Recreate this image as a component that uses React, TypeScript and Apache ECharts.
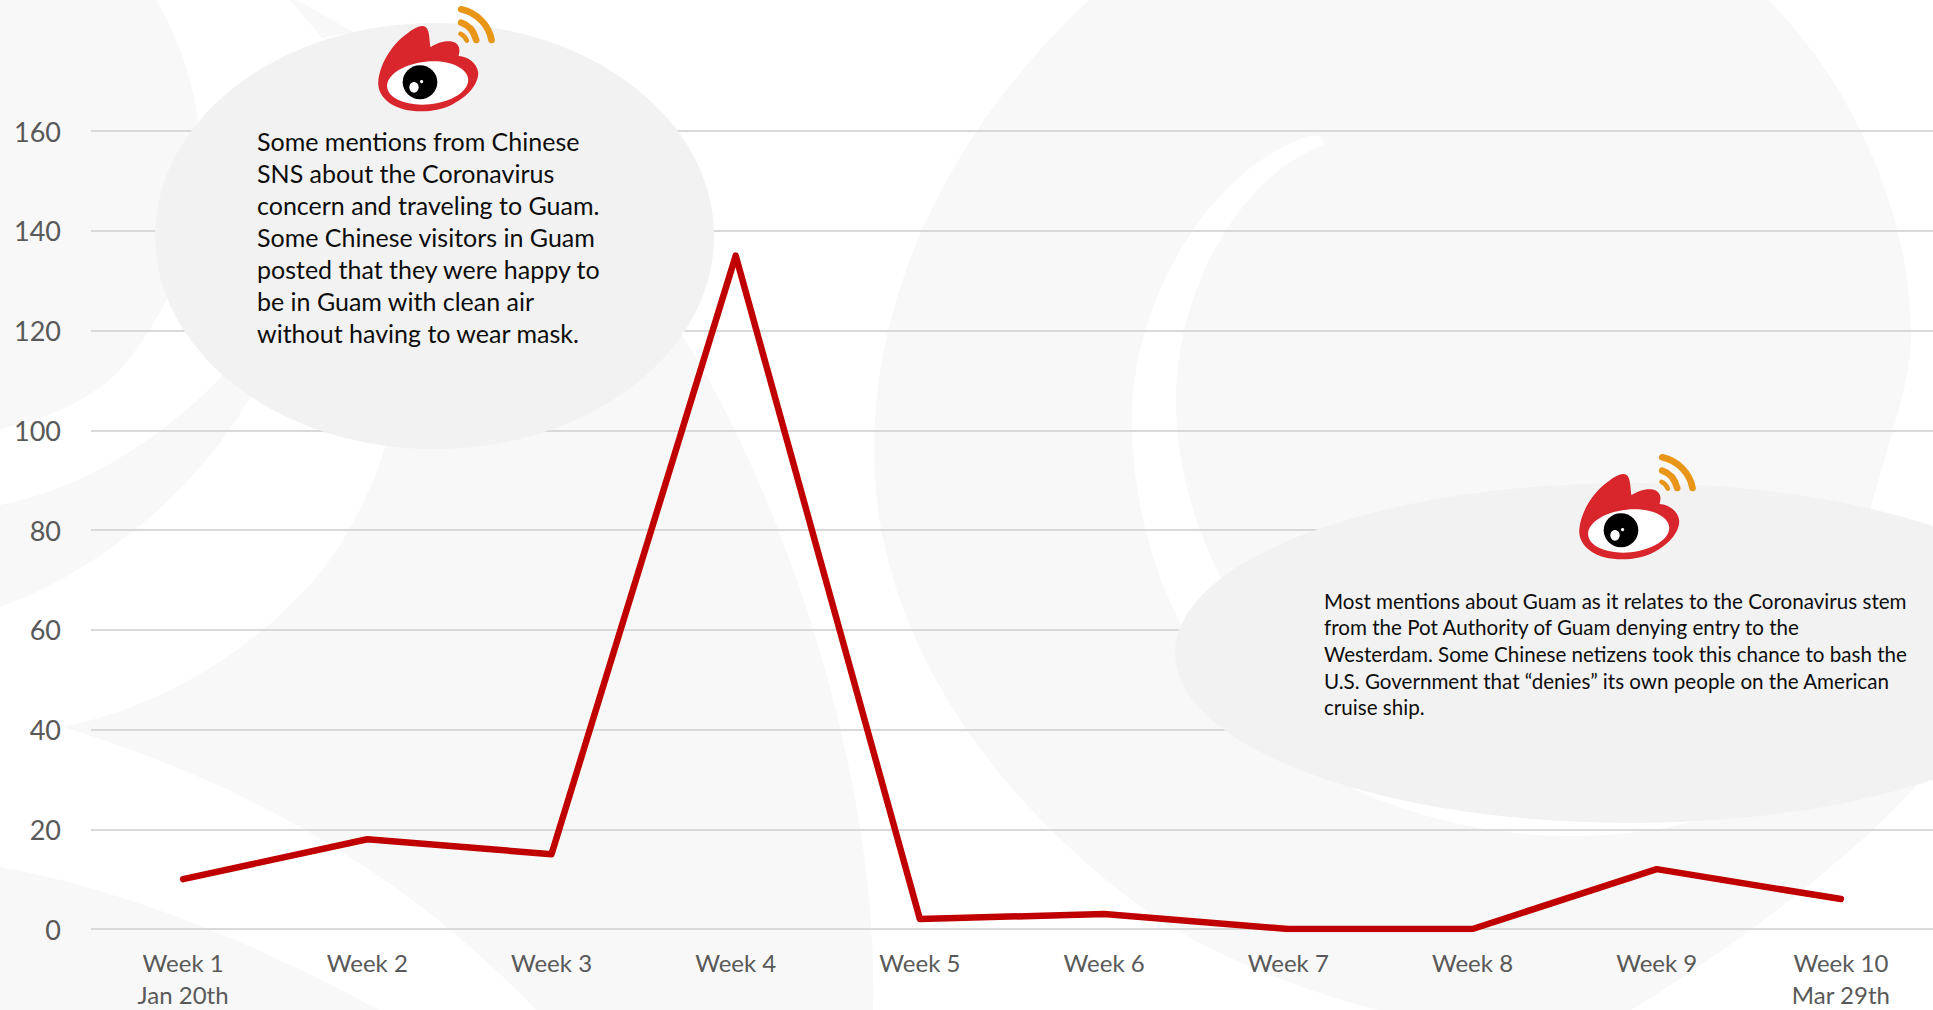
import React, { useEffect, useRef } from "react";
import * as echarts from "echarts";

const weeks = ["Week 1\nJan 20th", "Week 2", "Week 3", "Week 4", "Week 5", "Week 6", "Week 7", "Week 8", "Week 9", "Week 10\nMar 29th"];
const mentions = [10, 18, 15, 135, 2, 3, 0, 0, 12, 6];
const yTicks = { min: 0, max: 160, interval: 20 };

const noteOne = [
  "Some mentions from Chinese",
  "SNS about the Coronavirus",
  "concern and traveling to Guam.",
  "Some Chinese visitors in Guam",
  "posted that they were happy to",
  "be in Guam with clean air",
  "without having to wear mask.",
];
const noteTwo = [
  "Most mentions about Guam as it relates to the Coronavirus stem",
  "from the Pot Authority of Guam denying entry to the",
  "Westerdam. Some Chinese netizens took this chance to bash the",
  "U.S. Government that \u201Cdenies\u201D its own people on the American",
  "cruise ship.",
];

const bgPaths: Record<string, string> = {
  bgHead:
    "M1089 0C960 120 874 280 874 451C874 640 1000 810 1161 921C1225 960 1300 990 1378 1010L1631 1010C1730 950 1850 860 1915 787L1940 745L1940 690L1850 620L1869 515C1895 420 1911 380 1911 335C1911 200 1840 70 1768 0Z",
  bgCrescent:
    "M1324 145C1240 175 1176 290 1176 400C1176 520 1240 640 1330 720C1420 790 1560 830 1696 821C1540 860 1380 820 1270 741C1180 660 1132 540 1132 419C1132 300 1210 170 1306 137Q1322 132 1324 145Z",
  bgBlobA: "M155 -2C185 50 200 100 200 160C200 240 170 310 120 370C85 405 40 420 0 429L0 0Z",
  bgBandB: "M0 505C80 490 160 440 220 378L300 280L360 300L250 398C190 500 90 575 0 607Z",
  bgSliver: "M290 0L322 38L353 32L297 0Z",
  bgLobeC:
    "M63 727C170 705 270 640 330 560C360 515 375 480 385 447L420 360L660 300L683 337C770 470 880 760 873 1010L536 1010C440 910 300 800 63 727Z",
  bgFoot: "M0 867C130 890 270 950 379 1010L0 1010Z",
};

const logoPaths: Record<string, string> = {
  logoFlame:
    "M115 245C118 200 150 135 205 98C225 84 245 72 258 82C270 92 268 125 272 142C290 128 325 118 345 128C362 138 360 155 356 168C385 170 412 190 415 218C417 250 385 290 340 312C300 334 240 340 190 328C145 316 112 285 115 245Z",
  logoArcOuter: "M364 28C410 38 447 75 455 120",
  logoArcMiddle: "M364 68C388 76 403 96 409 120",
  logoArcInner: "M362 102C371 106 377 113 381 122",
};

Object.entries({ ...bgPaths, ...logoPaths }).forEach(([name, d]) => {
  echarts.graphic.registerShape(name, echarts.graphic.extendPath(d, {}));
});

const bgColor = "#f8f8f8";
const bubbleColor = "#f2f2f2";
const fontFamily = "Lato, 'Noto Sans', sans-serif";

function logo(x: number, y: number) {
  const orange = { fill: "none", stroke: "#e99518", lineWidth: 20, lineCap: "round" };
  return {
    type: "group",
    x,
    y,
    scaleX: 1 / 3,
    scaleY: 1 / 3,
    children: [
      { type: "logoFlame", z: 3, z2: 1, style: { fill: "#d8262c" } },
      { type: "ellipse", z: 3, z2: 2, x: 263, y: 249, rotation: 0.1, shape: { cx: 0, cy: 0, rx: 122, ry: 64 }, style: { fill: "#ffffff" } },
      { type: "ellipse", z: 3, z2: 3, x: 240, y: 247, shape: { cx: 0, cy: 0, rx: 52, ry: 51 }, style: { fill: "#000000" } },
      { type: "ellipse", z: 3, z2: 4, x: 222, y: 262, shape: { cx: 0, cy: 0, rx: 14, ry: 16 }, style: { fill: "#ffffff" } },
      { type: "circle", z: 3, z2: 4, shape: { cx: 245, cy: 245, r: 5 }, style: { fill: "#ffffff" } },
      { type: "logoArcOuter", z: 3, z2: 1, style: orange },
      { type: "logoArcMiddle", z: 3, z2: 1, style: orange },
      { type: "logoArcInner", z: 3, z2: 1, style: { ...orange, lineWidth: 14 } },
    ],
  };
}

export default function App() {
  const ref = useRef<HTMLDivElement>(null);
  useEffect(() => {
    if (!ref.current) return;
    const chart = echarts.init(ref.current, undefined, { renderer: "svg" });
    const bg = (type: string, fill: string, z: number) => ({ type, z, style: { fill } });
    chart.setOption({
      animation: false,
      backgroundColor: "#ffffff",
      grid: { left: 91, top: 131, width: 1844, height: 800, containLabel: false },
      xAxis: {
        type: "category",
        data: weeks,
        boundaryGap: true,
        axisLine: { show: false },
        axisTick: { show: false },
        splitLine: { show: false },
        axisLabel: {
          color: "#595959",
          fontFamily,
          fontSize: 24,
          lineHeight: 32,
          margin: 17,
          interval: 0,
          verticalAlign: "top",
        },
      },
      yAxis: {
        type: "value",
        ...yTicks,
        axisLine: { show: false },
        axisTick: { show: false },
        splitLine: { show: true, lineStyle: { color: "#d9d9d9", width: 2 } },
        axisLabel: { color: "#595959", fontFamily, fontSize: 27, margin: 30 },
      },
      series: [
        {
          type: "line",
          data: mentions,
          symbol: "none",
          showSymbol: false,
          smooth: false,
          z: 2,
          lineStyle: { color: "#c00000", width: 6.5, cap: "round", join: "round" },
        },
      ],
      graphic: {
        elements: [
          bg("bgHead", bgColor, -5),
          bg("bgCrescent", "#ffffff", -4),
          bg("bgBlobA", bgColor, -5),
          bg("bgBandB", bgColor, -5),
          bg("bgSliver", bgColor, -5),
          bg("bgLobeC", bgColor, -5),
          bg("bgFoot", bgColor, -5),
          { type: "ellipse", z: 1, shape: { cx: 434.5, cy: 236, rx: 279.5, ry: 213 }, style: { fill: bubbleColor } },
          { type: "ellipse", z: 1, shape: { cx: 1630, cy: 653, rx: 455, ry: 170 }, style: { fill: bubbleColor } },
          logo(340, 0),
          logo(1541, 448),
          {
            type: "text",
            z: 5,
            x: 257,
            y: 125,
            style: {
              text: noteOne.join("\n"),
              fill: "#0d0d0d",
              fontFamily,
              fontSize: 25,
              lineHeight: 32,
              verticalAlign: "top",
            },
          },
          {
            type: "text",
            z: 5,
            x: 1324,
            y: 587.5,
            style: {
              text: noteTwo.join("\n"),
              fill: "#0d0d0d",
              fontFamily,
              fontSize: 20.6,
              lineHeight: 26.6,
              verticalAlign: "top",
            },
          },
        ],
      },
    } as any);
    return () => chart.dispose();
  }, []);
  return <div ref={ref} style={{ position: "absolute", left: 0, top: 0, width: 1933, height: 1010 }} />;
}
